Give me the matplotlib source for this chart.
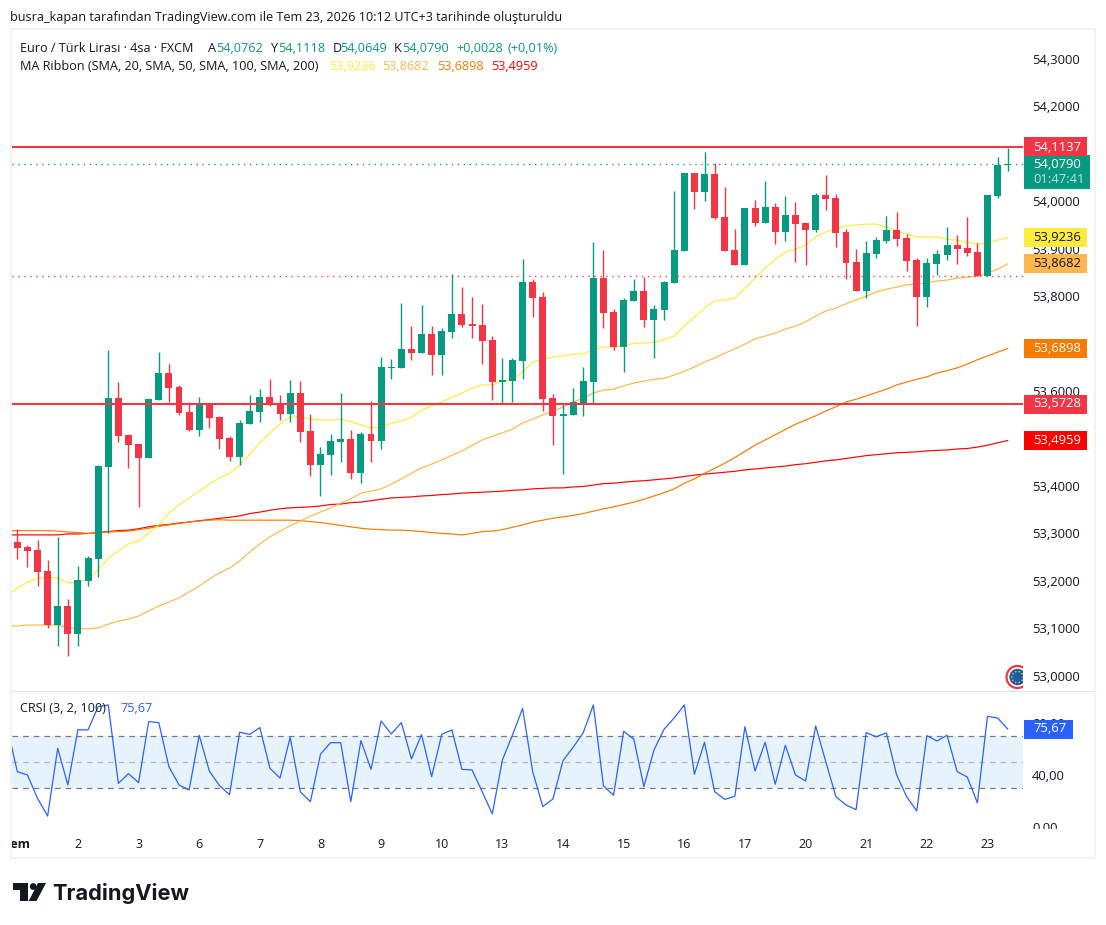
import math
import matplotlib
matplotlib.use('Agg')
import matplotlib.pyplot as plt
from matplotlib.patches import Rectangle, Circle, Polygon
from matplotlib.transforms import Bbox, IdentityTransform
from matplotlib.ticker import FuncFormatter

W, H = 1106, 925
FONT = 'Open Sans'
plt.rcParams['font.family'] = [FONT, 'DejaVu Sans']

opens = [53.2820,53.2714,53.2651,53.2209,53.1070,53.1471,53.0880,53.1998,53.2462,53.4401,
53.5854,53.5074,53.4885,53.4590,53.5812,53.6381,53.6086,53.5559,53.5180,53.5728,
53.5454,53.5011,53.4611,53.5307,53.5559,53.5875,53.5728,53.5517,53.5959,53.5159,
53.4443,53.4653,53.4927,53.4990,53.4274,53.5095,53.4948,53.6486,53.6486,53.6886,
53.6802,53.7202,53.6760,53.7244,53.7624,53.7413,53.7392,53.7076,53.6191,53.6212,
53.6634,53.8298,53.7982,53.5854,53.5475,53.5496,53.5749,53.6191,53.8382,53.7666,
53.6928,53.7898,53.8108,53.7497,53.7708,53.8277,53.8952,54.0596,54.0196,54.0575,
53.9669,53.8973,53.8657,53.9858,53.9542,53.9879,53.9353,53.9711,53.9542,53.9395,
54.0132,54.0069,53.9353,53.8720,53.8108,53.8889,53.9163,53.9395,53.9226,53.8762,
53.7982,53.8678,53.8868,53.9079,53.9016,53.8931,53.8425,54.0111,54.0762]
closes = [53.2693,53.2630,53.2188,53.1070,53.1471,53.0880,53.2019,53.2483,53.4422,53.5854,
53.5053,53.4864,53.4590,53.5833,53.6381,53.6065,53.5538,53.5180,53.5728,53.5433,
53.4990,53.4611,53.5328,53.5580,53.5875,53.5728,53.5517,53.5959,53.5138,53.4443,
53.4674,53.4948,53.4990,53.4274,53.5095,53.4948,53.6508,53.6508,53.6886,53.6802,
53.7202,53.6760,53.7265,53.7624,53.7392,53.7371,53.7055,53.6191,53.6233,53.6654,
53.8298,53.7961,53.5833,53.5475,53.5517,53.5770,53.6212,53.8382,53.7645,53.6928,
53.7919,53.8108,53.7497,53.7729,53.8298,53.8973,54.0596,54.0196,54.0575,53.9648,
53.8952,53.8657,53.9858,53.9542,53.9879,53.9353,53.9711,53.9521,53.9395,54.0132,
54.0048,53.9331,53.8699,53.8108,53.8910,53.9184,53.9395,53.9205,53.8741,53.7982,
53.8699,53.8889,53.9079,53.8994,53.8910,53.8425,54.0132,54.0765,54.0790]
highs = [53.3094,53.2757,53.2862,53.2440,53.2925,53.1618,53.2314,53.2525,53.4443,53.6865,
53.6191,53.5095,53.4885,53.5833,53.6823,53.6570,53.6128,53.5770,53.5875,53.5728,
53.5475,53.5053,53.5391,53.5917,53.6044,53.6254,53.5917,53.6233,53.6212,53.5517,
53.4822,53.5095,53.5959,53.5180,53.5138,53.5791,53.6719,53.6676,53.7856,53.7371,
53.7813,53.7371,53.7328,53.8467,53.8193,53.7982,53.7835,53.7160,53.6697,53.6697,
53.8783,53.8361,53.8088,53.5938,53.5749,53.6065,53.6508,53.9142,53.8973,53.7729,
53.7961,53.8361,53.8403,53.7813,53.8319,54.0217,54.0596,54.0596,54.1039,54.0807,
54.0301,53.9416,53.9858,54.0027,54.0427,53.9964,54.0111,53.9985,53.9542,54.0175,
54.0554,54.0154,53.9416,53.8994,53.9163,53.9247,53.9690,53.9774,53.9310,53.8804,
53.8804,53.8973,53.9458,53.9289,53.9669,53.9121,54.0132,54.0933,54.1118]
lows = [53.2462,53.2293,53.1893,53.1007,53.0628,53.0417,53.0628,53.1893,53.2082,53.3010,
53.4927,53.4380,53.3557,53.4590,53.5812,53.5770,53.5496,53.5159,53.5053,53.5222,
53.4780,53.4527,53.4443,53.5307,53.5349,53.5686,53.5391,53.5349,53.4927,53.4211,
53.3789,53.4232,53.4506,53.4148,53.4064,53.4506,53.4780,53.6254,53.6486,53.6654,
53.6802,53.6338,53.6338,53.7117,53.7350,53.7117,53.6570,53.5812,53.5749,53.5770,
53.6254,53.7561,53.5580,53.4864,53.4253,53.5496,53.5475,53.5728,53.7328,53.6865,
53.6402,53.7898,53.7350,53.6697,53.7497,53.8277,53.8952,53.9837,54.0006,53.9627,
53.8952,53.8657,53.8657,53.9479,53.9542,53.9100,53.9163,53.8720,53.8657,53.9353,
53.9816,53.9037,53.8361,53.8108,53.7961,53.8804,53.9121,53.9058,53.8530,53.7371,
53.7771,53.8446,53.8762,53.8678,53.8847,53.8425,53.8425,54.0069,54.0649]

# moving averages start one bar before the first visible candle (index -1)
sma20 = [53.168,53.185,53.197,53.206,53.208,53.206,53.196,53.197,53.204,53.223,
53.248,53.263,53.278,53.284,53.301,53.318,53.343,53.360,53.375,53.389,
53.404,53.417,53.427,53.444,53.467,53.491,53.512,53.531,53.545,53.547,
53.541,53.539,53.539,53.541,53.535,53.529,53.522,53.524,53.533,53.537,
53.545,53.560,53.569,53.577,53.587,53.596,53.606,53.613,53.613,53.621,
53.625,53.640,53.661,53.667,53.672,53.674,53.678,53.678,53.687,53.693,
53.693,53.695,53.701,53.701,53.703,53.708,53.716,53.737,53.756,53.775,
53.790,53.792,53.796,53.817,53.838,53.859,53.878,53.893,53.899,53.908,
53.925,53.935,53.942,53.948,53.950,53.952,53.952,53.946,53.937,53.931,
53.925,53.925,53.925,53.920,53.918,53.914,53.910,53.912,53.918,53.9236]
sma50 = [53.105,53.105,53.107,53.107,53.107,53.107,53.101,53.099,53.099,53.101,
53.109,53.115,53.120,53.126,53.137,53.147,53.156,53.164,53.177,53.189,
53.204,53.217,53.227,53.242,53.261,53.278,53.293,53.305,53.316,53.326,
53.337,53.345,53.354,53.364,53.373,53.385,53.389,53.394,53.404,53.415,
53.427,53.438,53.446,53.455,53.465,53.474,53.486,53.497,53.505,53.512,
53.520,53.533,53.541,53.550,53.558,53.566,53.577,53.585,53.596,53.602,
53.604,53.611,53.617,53.621,53.625,53.627,53.634,53.642,53.651,53.661,
53.670,53.680,53.689,53.699,53.710,53.716,53.722,53.731,53.737,53.746,
53.758,53.769,53.775,53.784,53.792,53.800,53.809,53.815,53.819,53.824,
53.826,53.828,53.832,53.834,53.838,53.840,53.842,53.849,53.857,53.8682]
sma100 = [53.305,53.306,53.306,53.306,53.306,53.305,53.303,53.302,53.300,53.301,
53.303,53.304,53.305,53.308,53.311,53.315,53.318,53.321,53.324,53.326,
53.328,53.329,53.328,53.328,53.328,53.328,53.328,53.328,53.328,53.327,
53.325,53.323,53.320,53.317,53.314,53.311,53.309,53.308,53.307,53.307,
53.306,53.304,53.302,53.300,53.299,53.297,53.300,53.304,53.305,53.308,
53.313,53.318,53.324,53.328,53.332,53.335,53.338,53.342,53.347,53.352,
53.356,53.361,53.366,53.372,53.379,53.386,53.394,53.406,53.415,53.427,
53.437,53.448,53.460,53.473,53.486,53.497,53.508,53.519,53.530,53.539,
53.548,53.558,53.567,53.577,53.583,53.590,53.597,53.604,53.613,53.619,
53.625,53.630,53.638,53.643,53.649,53.657,53.666,53.674,53.682,53.6898]
sma200 = [53.297,53.297,53.297,53.297,53.297,53.297,53.299,53.299,53.300,53.302,
53.304,53.306,53.307,53.310,53.314,53.317,53.319,53.322,53.324,53.327,
53.329,53.332,53.334,53.337,53.342,53.345,53.349,53.352,53.354,53.355,
53.356,53.358,53.361,53.362,53.365,53.366,53.369,53.372,53.375,53.376,
53.377,53.379,53.380,53.382,53.383,53.385,53.386,53.387,53.388,53.389,
53.391,53.392,53.394,53.395,53.396,53.396,53.398,53.399,53.402,53.405,
53.406,53.408,53.410,53.411,53.413,53.415,53.417,53.420,53.423,53.425,
53.427,53.429,53.431,53.434,53.436,53.438,53.440,53.442,53.445,53.447,
53.450,53.453,53.455,53.458,53.461,53.464,53.466,53.468,53.470,53.471,
53.472,53.474,53.475,53.476,53.478,53.479,53.482,53.486,53.491,53.4959]
crsi = [77.4,42.8,40.3,22.3,8.7,60.8,32.6,75.1,74.9,92.8,94.1,33.8,41.3,34.4,81.3,80.5,46.7,32.6,28.7,70.8,
43.3,32.1,25.1,73.1,71.5,76.7,45.4,37.9,69.2,27.4,19.7,56.2,65.1,65.1,19.7,66.7,44.6,81.8,71.8,80.5,
52.6,71.3,39.0,71.5,74.9,44.6,44.1,27.4,10.3,51.8,71.0,91.5,42.8,15.9,21.8,51.3,61.5,72.8,94.1,31.8,
24.6,73.8,67.9,31.3,59.5,75.4,84.1,94.1,40.8,65.4,27.4,21.5,23.8,77.4,43.3,65.4,33.1,63.1,40.3,35.6,
77.9,50.5,23.6,17.2,13.6,72.8,69.7,72.6,40.5,23.6,12.6,70.5,66.4,70.8,42.8,38.7,18.9,85.4,84.1,75.67]

levels = [54.1137, 53.5728]
last_close = 54.0790
prev_close = 53.8425
price_ticks = [53.0,53.1,53.2,53.3,53.4,53.5,53.6,53.7,53.8,53.9,54.0,54.1,54.2,54.3]
crsi_ticks = [0, 40, 80]
date_labels = ['Tem','2','3','6','7','8','9','10','13','14','15','16','17','20','21','22','23']

GREEN, RED = '#089981', '#f23645'
INK = '#131722'
FRAME = '#f0f3fa'
SEP = '#e0e3eb'
TICK_SIZE = 9.4

fig = plt.figure(figsize=(W/100, H/100), dpi=100, facecolor='white')

L, R = 11.5, 1023
def rect(top, bottom):
    return [L/W, (H-bottom)/H, (R-L)/W, (bottom-top)/H]

ax = fig.add_axes(rect(30, 691))
axc = fig.add_axes(rect(692, 829))
for a in (ax, axc):
    for s in a.spines.values():
        s.set_visible(False)
    a.set_xlim(-0.574, 99.515)
    a.patch.set_alpha(0)
ax.set_ylim(52.9680, 54.3610)
axc.set_ylim(-1.3, 104.08)

# frame
fig.add_artist(Rectangle((10.5, H-858), 1084, 829, transform=IdentityTransform(),
                         fill=False, ec=FRAME, lw=1.6, zorder=0))
fig.add_artist(Rectangle((11.5, H-692), 1083, 1.5, transform=IdentityTransform(),
                         fc=SEP, ec='none', zorder=1))

idx = list(range(len(opens)))
ma_idx = list(range(-1, len(opens)))
cols = [GREEN if c >= o else RED for o, c in zip(opens, closes)]

# moving averages
for vals, col in ((sma200, '#ff0000'), (sma100, '#f57c00'), (sma50, '#ffb74d'), (sma20, '#ffeb3b')):
    ax.plot(ma_idx, vals, color=col, lw=0.85, zorder=2, solid_joinstyle='round')

# candles
ax.vlines(idx, lows, highs, colors=cols, lw=1.0, zorder=3)
ax.bar(idx, [max(abs(c-o), 0.0025) for o, c in zip(opens, closes)],
       bottom=[min(o, c) for o, c in zip(opens, closes)], width=0.69, color=cols, lw=0, zorder=3)

# horizontal levels
for lv in levels:
    ax.axhline(lv, color=RED, lw=1.5, zorder=4)
ax.axhline(last_close, color=GREEN, lw=0.95, ls=(0, (1, 3.5)), zorder=4)
ax.axhline(prev_close, color=RED, lw=0.95, ls=(0, (1, 3.5)), zorder=4)

# price scale
ax.set_yticks(price_ticks)
ax.yaxis.tick_right()
ax.yaxis.set_major_formatter(FuncFormatter(lambda v, p: f'{v:.4f}'.replace('.', ',')))
ax.tick_params(axis='y', length=0, pad=6.5, labelsize=TICK_SIZE, labelcolor=INK)
ax.tick_params(axis='x', bottom=False, labelbottom=False)
for t in ax.get_yticklabels():
    t.set_verticalalignment('center_baseline')

# CRSI pane
axc.axhspan(30, 70, color='#2196f3', alpha=0.11, lw=0, zorder=1)
axc.axhline(70, color='#787b86', lw=0.9, ls=(0, (4.5, 4)), zorder=2)
axc.axhline(30, color='#787b86', lw=0.9, ls=(0, (4.5, 4)), zorder=2)
axc.axhline(50, color='#b2b5be', lw=0.9, ls=(0, (4.5, 4)), zorder=2)
axc.plot(ma_idx, crsi, color='#2962ff', lw=0.9, zorder=3)
axc.set_yticks(crsi_ticks)
axc.yaxis.tick_right()
axc.yaxis.set_major_formatter(FuncFormatter(lambda v, p: f'{v:.2f}'.replace('.', ',')))
axc.tick_params(axis='y', length=0, pad=6.5, labelsize=TICK_SIZE, labelcolor=INK)
clip_y = Bbox([[1000, H-829], [1100, H-692]])
for t in axc.get_yticklabels():
    t.set_verticalalignment('center_baseline')
    t.set_clip_box(clip_y)
    t.set_clip_on(True)

axc.set_xticks(list(range(0, len(opens), 6))[:len(date_labels)])
axc.set_xticklabels(date_labels)
axc.tick_params(axis='x', length=0, pad=6.5, labelsize=9, labelcolor=INK)
first = axc.get_xticklabels()[0]
first.set_fontweight('bold')
first.set_clip_box(Bbox([[L, 0], [200, H]]))
first.set_clip_on(True)

# price tags
def tag(a, value, label, fc, tc, right=1087, top_off=9.5, bot_off=9.5, extra=None):
    y = a.transData.transform((0, value))[1]
    fig.add_artist(Rectangle((1024, y-bot_off), right-1024, top_off+bot_off,
                             transform=IdentityTransform(), fc=fc, ec='none', zorder=10))
    dy = 0.2 if extra is None else -0.6
    fig.text(1033/W, (y+dy)/H, label, color=tc, fontsize=TICK_SIZE,
             ha='left', va='center', zorder=11)
    if extra:
        fig.text(1033/W, (y-15.6)/H, extra, color='#ffffff', alpha=0.72, fontsize=TICK_SIZE,
                 ha='left', va='center', zorder=11)

fig.canvas.draw()
tag(ax, 53.4959, '53,4959', '#ff0000', 'white')
tag(ax, 53.5728, '53,5728', RED, 'white')
tag(ax, 53.6898, '53,6898', '#f57c00', 'white')
tag(ax, 53.8682, '53,8682', '#ffb74d', INK)
tag(ax, 53.9236, '53,9236', '#ffeb3b', INK)
tag(ax, 54.0790, '54,0790', GREEN, 'white', right=1090, top_off=8.5, bot_off=25, extra='01:47:41')
tag(ax, 54.1137, '54,1137', RED, 'white', top_off=10, bot_off=9)
tag(axc, 75.67, '75,67', '#2962ff', 'white', right=1073, top_off=9, bot_off=10)

# logo badge on the price pane
ic = IdentityTransform()
cx, cy = 1017.5, H-677
ax.add_patch(Circle((cx, cy), 11, transform=ic, fill=False, ec=RED, lw=1.6, zorder=6))
ax.add_patch(Circle((cx, cy), 8.2, transform=ic, fc='#1d5aa8', ec='none', zorder=6))
for k in range(10):
    ang = 2*math.pi*k/10
    ax.add_patch(Circle((cx+5.6*math.cos(ang), cy+5.6*math.sin(ang)), 0.8, transform=ic,
                        fc='#f5c518', ec='none', zorder=7))

# texts
def txt(x, y, s, color=INK, size=9.1, **kw):
    return fig.text(x/W, (H-y)/H, s, color=color, fontsize=size, ha='left', va='center', **kw)

txt(10, 18, 'busra_kapan tarafından TradingView.com ile Tem 23, 2026 10:12 UTC+3 tarihinde oluşturuldu')
txt(20, 48, 'Euro / Türk Lirası · 4sa · FXCM')
for x, s, c in ((208,'A',INK),(216.5,'54,0762',GREEN),(270,'Y',INK),(278,'54,1118',GREEN),
                (333,'D',INK),(340.5,'54,0649',GREEN),(394,'K',INK),(402,'54,0790',GREEN),
                (456,'+0,0028',GREEN),(507.5,'(+0,01%)',GREEN)):
    txt(x, 48, s, c)
txt(20, 66.5, 'MA Ribbon (SMA, 20, SMA, 50, SMA, 100, SMA, 200)')
for x, s, c in ((329,'53,9236','#ffeb3b'),(382.5,'53,8682','#ffb74d'),
                (437,'53,6898','#f57c00'),(491.5,'53,4959','#ff0000')):
    txt(x, 66.5, s, c)
txt(20, 709, 'CRSI (3, 2, 100)')
txt(120, 709, '75,67', '#2962ff')

# TradingView wordmark
def py(v):
    return H - v
logo = INK
fig.add_artist(Polygon([(13,py(883)),(28,py(883)),(28,py(901)),(20,py(901)),(20,py(889.5)),(13,py(889.5))],
                       closed=True, transform=ic, fc=logo, ec='none'))
fig.add_artist(Circle((33.2, py(886.5)), 3.4, transform=ic, fc=logo, ec='none'))
fig.add_artist(Polygon([(38,py(883)),(46,py(883)),(36.5,py(901)),(28.7,py(901))],
                       closed=True, transform=ic, fc=logo, ec='none'))
fig.text(52.5/W, (H-893.5)/H, 'TradingView', color=logo, fontsize=15.7, fontweight='bold',
         family=['Inter', 'DejaVu Sans'], ha='left', va='center')

fig.savefig('out.png', dpi=100, facecolor='white')
